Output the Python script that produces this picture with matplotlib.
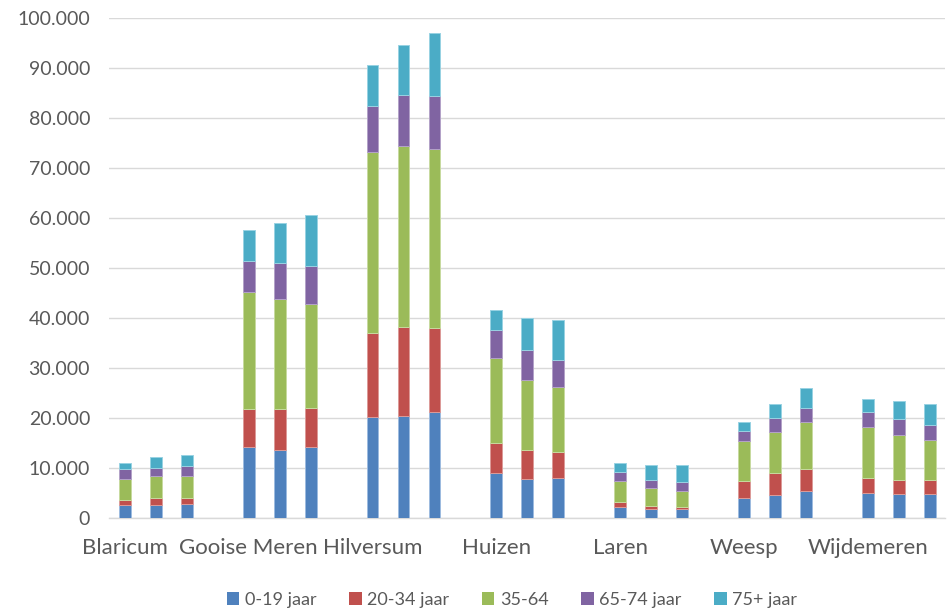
import matplotlib
matplotlib.use("Agg")
import matplotlib.pyplot as plt
from matplotlib.ticker import FuncFormatter, MultipleLocator
import numpy as np

gemeenten = ["Blaricum", "Gooise Meren", "Hilversum", "Huizen", "Laren", "Weesp", "Wijdemeren"]
leeftijden = ["0-19 jaar", "20-34 jaar", "35-64", "65-74 jaar", "75+ jaar"]

# three bars (years) per municipality
v_0_19 = [2600, 2600, 2810,
          14300, 13630, 14300,
          20110, 20370, 21110,
          8950, 7820, 8080,
          2140, 1740, 1800,
          4080, 4540, 5340,
          5010, 4810, 4810]
v_20_34 = [1070, 1410, 1200,
           7480, 8150, 7740,
           16960, 17840, 16900,
           6150, 5870, 5210,
           1000, 730, 400,
           3340, 4550, 4410,
           3070, 2810, 2810]
v_35_64 = [4080, 4410, 4410,
           23310, 22040, 20850,
           36140, 36140, 35670,
           16900, 13830, 12900,
           4280, 3480, 3140,
           7940, 8140, 9360,
           10090, 8950, 8010]
v_65_74 = [2070, 1670, 1930,
           6280, 7150, 7540,
           9080, 10280, 10750,
           5680, 6150, 5410,
           1870, 1670, 1870,
           2080, 2810, 2870,
           3070, 3270, 3010]
v_75 = [1200, 2070, 2280,
        6150, 7950, 10090,
        8290, 9960, 12420,
        3940, 6340, 7950,
        1800, 3000, 3410,
        1670, 2810, 3940,
        2610, 3470, 4210]

series = [v_0_19, v_20_34, v_35_64, v_65_74, v_75]
colors = ["#4F81BD", "#C0504D", "#9BBB59", "#8064A2", "#4BACC6"]
edges = ["#9dbbe0", "#dc9a98", "#c7da9f", "#b3a2c8", "#98d2e2"]

plt.rcParams['font.family'] = ['Lato', 'DejaVu Sans']

fig = plt.figure(figsize=(9.48, 6.11), dpi=100)
ax = fig.add_axes([0.1155, 0.152, 0.997 - 0.1155, 0.971 - 0.152])

n_groups = len(gemeenten)
per_group = 3
x = np.array([4 * g + j for g in range(n_groups) for j in range(per_group)], dtype=float)

bottom = np.zeros(len(x))
for vals, c, ec, lab in zip(series, colors, edges, leeftijden):
    vals = np.array(vals, dtype=float)
    ax.bar(x, vals, width=0.38, bottom=bottom, color=c, edgecolor=ec,
           linewidth=0.7, label=lab, zorder=3)
    bottom += vals

ax.set_xlim(-0.5, 26.5)
ax.set_ylim(0, 100000)
ax.yaxis.set_major_locator(MultipleLocator(10000))
ax.yaxis.set_major_formatter(FuncFormatter(lambda v, p: f"{int(v):,}".replace(",", ".")))
ax.grid(axis='y', color='#D9D9D9', linewidth=1.0, zorder=0)
ax.set_axisbelow(True)

ax.set_xticks([4 * g for g in range(n_groups)])
ax.set_xticklabels(gemeenten)

for s in ["top", "right", "left"]:
    ax.spines[s].set_visible(False)
ax.spines["bottom"].set_color('#D9D9D9')
ax.spines["bottom"].set_linewidth(1.0)

ax.tick_params(axis='both', length=0, labelcolor='#595959')
ax.tick_params(axis='y', labelsize=14, pad=14)
ax.tick_params(axis='x', labelsize=16, pad=14)

leg = fig.legend(loc='center', bbox_to_anchor=(0.54, 0.018), ncol=5, frameon=False,
                 fontsize=13, handlelength=0.7, handleheight=0.7, handletextpad=0.3,
                 columnspacing=1.8, labelcolor='#595959')
for h in leg.legend_handles:
    h.set_edgecolor('none')

fig.savefig("out.png", dpi=100)
